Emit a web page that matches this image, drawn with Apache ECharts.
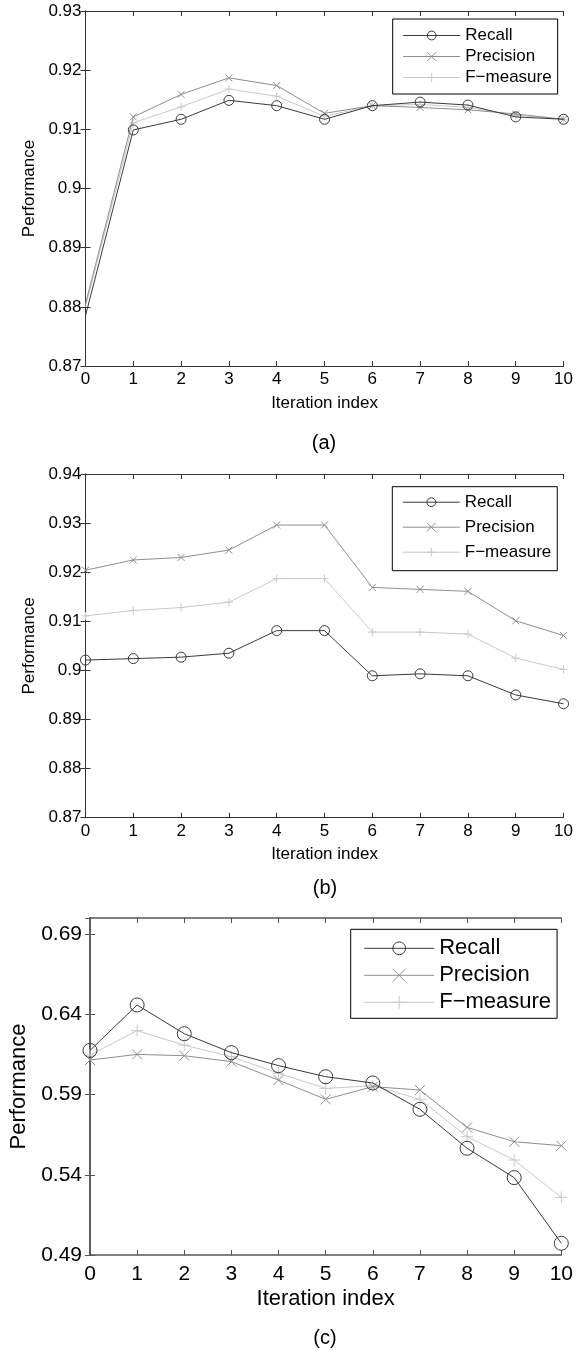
<!DOCTYPE html>
<html>
<head>
<meta charset="utf-8">
<script src="https://cdn.jsdelivr.net/npm/echarts@6/dist/echarts.min.js"></script>
<style>
html,body{margin:0;padding:0;background:#fff;}
#chart{width:576px;height:1350px;}
</style>
</head>
<body>
<div id="chart"></div>
<script>
// ---------- data ----------
const iterations = [0, 1, 2, 3, 4, 5, 6, 7, 8, 9, 10];
const seriesNames = ['Recall', 'Precision', 'F\u2212measure'];
const panelLabels = ['(a)', '(b)', '(c)'];
const xAxisTitle = 'Iteration index';
const yAxisTitle = 'Performance';

const yTicksA = ['0.87', '0.88', '0.89', '0.9', '0.91', '0.92', '0.93'];
const yTicksB = ['0.87', '0.88', '0.89', '0.9', '0.91', '0.92', '0.93', '0.94'];
const yTicksC = ['0.49', '0.54', '0.59', '0.64', '0.69'];

const recallA    = [0.8785, 0.9099, 0.9117, 0.9149, 0.9140, 0.9117, 0.9140, 0.9146, 0.9141, 0.9121, 0.9117];
const precisionA = [0.8805, 0.9121, 0.9159, 0.9187, 0.9174, 0.9127, 0.9140, 0.9137, 0.9133, 0.9126, 0.9117];
const fmeasureA  = [0.8800, 0.9111, 0.9138, 0.9168, 0.9156, 0.9122, 0.9140, 0.9142, 0.9137, 0.9124, 0.9117];

const recallB    = [0.9021, 0.9024, 0.9027, 0.9035, 0.9081, 0.9081, 0.8989, 0.8993, 0.8989, 0.8950, 0.8932];
const precisionB = [0.9204, 0.9225, 0.9230, 0.9245, 0.9296, 0.9296, 0.9169, 0.9165, 0.9161, 0.9101, 0.9071];
const fmeasureB  = [0.9111, 0.9122, 0.9128, 0.9139, 0.9187, 0.9187, 0.9078, 0.9078, 0.9074, 0.9025, 0.9002];

const recallC    = [0.6175, 0.6458, 0.6279, 0.6161, 0.6080, 0.6011, 0.5972, 0.5808, 0.5565, 0.5382, 0.4973];
const precisionC = [0.6115, 0.6150, 0.6142, 0.6105, 0.5990, 0.5870, 0.5949, 0.5928, 0.5695, 0.5606, 0.5581];
const fmeasureC  = [0.6146, 0.6298, 0.6208, 0.6136, 0.6032, 0.5938, 0.5955, 0.5870, 0.5637, 0.5492, 0.5259];

// ---------- styling ----------
const FONT = '"Liberation Sans", Arial, Helvetica, sans-serif';
const colors = ['#3a3a3a', '#8e8e8e', '#c9c9c9'];
const SYM_CIRCLE = 'path://M10,5A5,5,0,1,1,0,5A5,5,0,1,1,10,5Z';
const SYM_X = 'path://M0,0L10,10M10,0L0,10';
const SYM_PLUS = 'path://M5,0L5,10M0,5L10,5';
const symbols = [SYM_CIRCLE, SYM_X, SYM_PLUS];

const panels = [
  {
    key: 'a', values: [recallA, precisionA, fmeasureA], ticks: yTicksA,
    grid: {left: 85.5, top: 11, width: 480.2, height: 355},
    yMin: 0.87, yMax: 0.93, yInt: 0.01,
    font: 17, nameFont: 17, titleFont: 20, axisColor: '#333', axisWidth: 1,
    symSizes: [10, 7, 8], lineWidth: 1, hideFirstSymbol: true,
    yNameGap: 47, xNameGap: 29, xLabelMargin: 5, yLabelMargin: 4,
    legend: {left: 392.7, top: 19, itemWidth: 57, itemHeight: 11, itemGap: 4, padding: [8, 6, 8, 10]},
    title: {x: 324, y: 433}
  },
  {
    key: 'b', values: [recallB, precisionB, fmeasureB], ticks: yTicksB,
    grid: {left: 85.5, top: 474, width: 480.2, height: 343.7},
    yMin: 0.87, yMax: 0.94, yInt: 0.01,
    font: 17, nameFont: 17, titleFont: 20, axisColor: '#333', axisWidth: 1,
    symSizes: [10, 7, 8], lineWidth: 1, hideFirstSymbol: false,
    yNameGap: 47, xNameGap: 28, xLabelMargin: 5, yLabelMargin: 4,
    legend: {left: 392.3, top: 486.7, itemWidth: 57, itemHeight: 11, itemGap: 8, padding: [7, 6, 10, 10]},
    title: {x: 325, y: 878}
  },
  {
    key: 'c', values: [recallC, precisionC, fmeasureC], ticks: yTicksC,
    grid: {left: 90, top: 918, width: 475.7, height: 337},
    yMin: 0.49, yMax: 0.70, yInt: 0.05,
    font: 21, nameFont: 22, titleFont: 20, axisColor: '#555', axisWidth: 1.5,
    symSizes: [14, 10, 12], lineWidth: 1, hideFirstSymbol: false,
    yNameGap: 59, xNameGap: 33, xLabelMargin: 9, yLabelMargin: 8,
    legend: {left: 350.7, top: 929.3, itemWidth: 70, itemHeight: 16, itemGap: 5, padding: [8, 6, 5, 13]},
    title: {x: 325, y: 1328}
  }
];

const grids = [], xAxes = [], yAxes = [], series = [], legends = [], titles = [];

panels.forEach((p, pi) => {
  grids.push(Object.assign({containLabel: false}, p.grid));
  const tickLabel = v => {
    const s = String(+(+v).toFixed(2));
    return p.ticks.indexOf(s) >= 0 ? s : '';
  };
  const axisLine = {show: true, lineStyle: {color: p.axisColor, width: p.axisWidth}};
  const axisTick = {show: true, inside: true, length: 5, lineStyle: {color: p.axisColor, width: 1}};
  xAxes.push({
    type: 'value', gridIndex: pi, position: 'bottom', min: 0, max: 10, interval: 1,
    axisLine, axisTick, splitLine: {show: false},
    axisLabel: {show: true, margin: p.xLabelMargin, fontSize: p.font, color: '#000', fontFamily: FONT,
      formatter: v => String(Math.round(v))},
    name: xAxisTitle, nameLocation: 'middle', nameGap: p.xNameGap,
    nameTextStyle: {fontSize: p.nameFont, color: '#000', fontFamily: FONT}
  });
  xAxes.push({
    type: 'value', gridIndex: pi, position: 'top', min: 0, max: 10, interval: 1,
    axisLine, axisTick, splitLine: {show: false}, axisLabel: {show: false}
  });
  yAxes.push({
    type: 'value', gridIndex: pi, position: 'left', min: p.yMin, max: p.yMax, interval: p.yInt,
    axisLine, axisTick, splitLine: {show: false},
    axisLabel: {show: true, margin: p.yLabelMargin, fontSize: p.font, color: '#000', fontFamily: FONT,
      formatter: tickLabel, showMaxLabel: p.key !== 'c'},
    name: yAxisTitle, nameLocation: 'middle', nameGap: p.yNameGap, nameRotate: 90,
    nameTextStyle: {fontSize: p.nameFont, color: '#000', fontFamily: FONT}
  });
  yAxes.push({
    type: 'value', gridIndex: pi, position: 'right', min: p.yMin, max: p.yMax, interval: p.yInt,
    axisLine, axisTick, splitLine: {show: false}, axisLabel: {show: false}
  });

  const legendData = [];
  seriesNames.forEach((nm, si) => {
    const fullName = nm + '|' + p.key;
    const data = iterations.map((x, i) => {
      const item = {value: [x, p.values[si][i]]};
      if (p.hideFirstSymbol && i === 0) item.symbol = 'none';
      return item;
    });
    series.push({
      type: 'line', name: fullName, xAxisIndex: pi * 2, yAxisIndex: pi * 2,
      data, symbol: symbols[si], symbolSize: p.symSizes[si], showAllSymbol: true,
      clip: false, silent: true, z: 3 - si,
      lineStyle: {color: colors[si], width: p.lineWidth},
      itemStyle: {color: 'none', borderColor: colors[si], borderWidth: 1}
    });
    legendData.push({
      name: fullName,
      itemStyle: {color: 'none', borderColor: colors[si], borderWidth: 1},
      lineStyle: {color: colors[si], width: p.lineWidth}
    });
  });
  legends.push({
    orient: 'vertical', left: p.legend.left, top: p.legend.top,
    itemWidth: p.legend.itemWidth, itemHeight: p.legend.itemHeight, itemGap: p.legend.itemGap,
    padding: p.legend.padding, borderColor: '#000', borderWidth: 1, backgroundColor: '#fff',
    selectedMode: false, data: legendData,
    formatter: n => n.split('|')[0],
    textStyle: {fontSize: p.nameFont, color: '#000', fontFamily: FONT}
  });
  titles.push({
    text: panelLabels[pi], left: p.title.x, top: p.title.y, textAlign: 'center', padding: 0,
    textStyle: {fontSize: p.titleFont, fontWeight: 'normal', color: '#000', fontFamily: FONT}
  });
});

const chart = echarts.init(document.getElementById('chart'), null, {renderer: 'canvas'});
chart.setOption({
  animation: false,
  backgroundColor: '#fff',
  title: titles,
  grid: grids,
  xAxis: xAxes,
  yAxis: yAxes,
  legend: legends,
  series: series
});
</script>
</body>
</html>
